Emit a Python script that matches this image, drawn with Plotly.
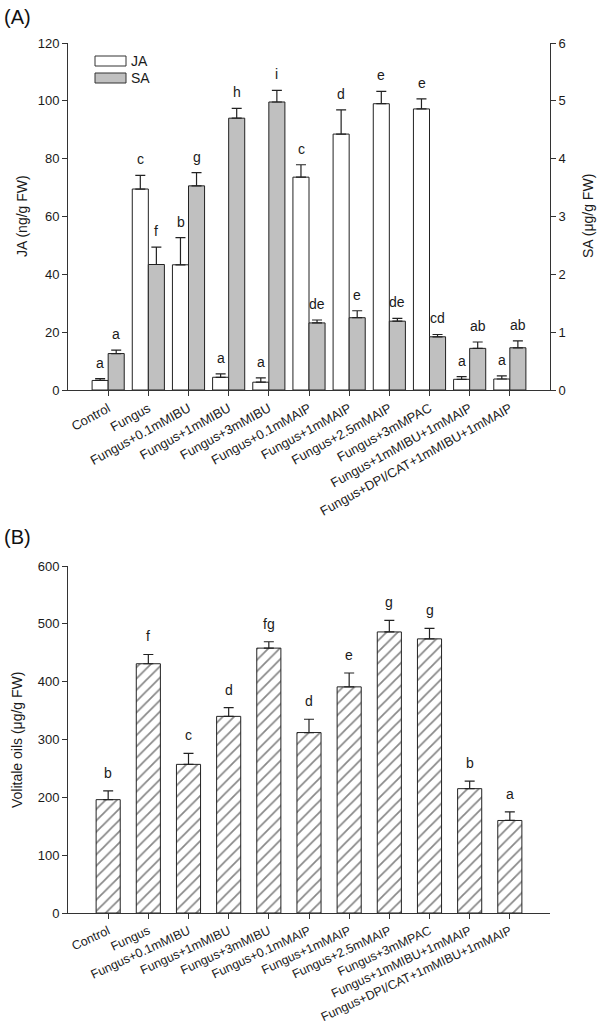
import plotly.graph_objects as go

categories = ["Control", "Fungus", "Fungus+0.1mMIBU", "Fungus+1mMIBU", "Fungus+3mMIBU",
              "Fungus+0.1mMAIP", "Fungus+1mMAIP", "Fungus+2.5mMAIP", "Fungus+3mMPAC",
              "Fungus+1mMIBU+1mMAIP", "Fungus+DPI/CAT+1mMIBU+1mMAIP"]
ja = [3.3, 69.5, 43.3, 4.4, 2.7, 73.6, 88.5, 99.0, 97.2, 3.7, 3.8]
ja_err = [0.6, 4.7, 9.4, 1.2, 1.5, 4.3, 8.4, 4.3, 3.5, 0.9, 1.1]
ja_letters = ["a", "c", "b", "a", "a", "c", "d", "e", "e", "a", "a"]
sa = [0.63, 2.17, 3.53, 4.70, 4.98, 1.16, 1.25, 1.19, 0.92, 0.72, 0.73]
sa_err = [0.06, 0.30, 0.23, 0.17, 0.20, 0.05, 0.12, 0.05, 0.04, 0.11, 0.12]
sa_letters = ["a", "f", "g", "h", "i", "de", "e", "de", "cd", "ab", "ab"]
oils = [196, 431, 257, 340, 458, 312, 391, 486, 474, 215, 160]
oils_err = [15, 16, 19, 15, 11, 23, 24, 20, 18, 13, 15]
oils_letters = ["b", "f", "c", "d", "fg", "d", "e", "g", "g", "b", "a"]
legend_names = ["JA", "SA"]

FONT = "Liberation Sans, Arial, sans-serif"
LINE = "#333333"
TXT = "#1a1a1a"
SA_GRAY = "#c0c0c0"
zeros = [0] * len(categories)

# figure geometry (px)
W, H = 600, 1026
ML, MR, MT, MB = 68, 50, 43, 113
PW, PH = W - ML - MR, H - MT - MB


def px_x(px):
    return (px - ML) / PW


def px_y(py):
    return (H - MB - py) / PH


fig = go.Figure()
fig.add_trace(go.Bar(
    x=categories, y=ja, name=legend_names[0], width=0.4, offset=-0.4, showlegend=False,
    marker=dict(color="white", line=dict(color="#222", width=1)),
    error_y=dict(type="data", array=ja_err, arrayminus=zeros, symmetric=False,
                 color="#222", thickness=1.2, width=5),
    xaxis="x", yaxis="y"))
fig.add_trace(go.Bar(
    x=categories, y=sa, name=legend_names[1], width=0.4, offset=0, showlegend=False,
    marker=dict(color=SA_GRAY, line=dict(color="#222", width=1)),
    error_y=dict(type="data", array=sa_err, arrayminus=zeros, symmetric=False,
                 color="#222", thickness=1.2, width=5),
    xaxis="x", yaxis="y2"))
fig.add_trace(go.Bar(
    x=categories, y=oils, name="Volitale oils", width=0.6, showlegend=False,
    marker=dict(color="white", line=dict(color="#222", width=1),
                pattern=dict(shape="/", fgcolor="#111", bgcolor="white", size=8, solidity=0.22)),
    error_y=dict(type="data", array=oils_err, arrayminus=zeros, symmetric=False,
                 color="#222", thickness=1.2, width=5),
    xaxis="x2", yaxis="y3"))

LET = dict(size=14, color=TXT)
ann = []
for c, v, e, t in zip(categories, ja, ja_err, ja_letters):
    ann.append(dict(x=c, y=v + e, xref="x", yref="y", text=t, showarrow=False,
                    xshift=-8, yshift=16, yanchor="middle", font=LET))
for c, v, e, t in zip(categories, sa, sa_err, sa_letters):
    ann.append(dict(x=c, y=v + e, xref="x", yref="y2", text=t, showarrow=False,
                    xshift=8, yshift=16, yanchor="middle", font=LET))
for c, v, e, t in zip(categories, oils, oils_err, oils_letters):
    ann.append(dict(x=c, y=v + e, xref="x2", yref="y3", text=t, showarrow=False,
                    yshift=18, yanchor="middle", font=LET))

# panel labels
ann.append(dict(x=px_x(2), y=px_y(17), xref="paper", yref="paper", text="(A)", showarrow=False,
                xanchor="left", yanchor="middle", font=dict(size=20, color="#111")))
ann.append(dict(x=px_x(2), y=px_y(537), xref="paper", yref="paper", text="(B)", showarrow=False,
                xanchor="left", yanchor="middle", font=dict(size=20, color="#111")))

# axis titles
TT = dict(size=14, color=TXT)
ann.append(dict(x=px_x(22), y=px_y(216), xref="paper", yref="paper", text="JA (ng/g FW)",
                textangle=-90, showarrow=False, xanchor="center", yanchor="middle", font=TT))
ann.append(dict(x=px_x(588), y=px_y(216), xref="paper", yref="paper", text="SA (μg/g FW)",
                textangle=-90, showarrow=False, xanchor="center", yanchor="middle", font=TT))
ann.append(dict(x=px_x(17), y=px_y(740), xref="paper", yref="paper", text="Volitale oils (μg/g FW)",
                textangle=-90, showarrow=False, xanchor="center", yanchor="middle", font=TT))

# legend (boxes + labels)
shapes = []
leg_fill = ["white", SA_GRAY]
leg_rows = [(56, 66), (73, 83)]
for name, fill, (y0, y1) in zip(legend_names, leg_fill, leg_rows):
    shapes.append(dict(type="rect", xref="paper", yref="paper",
                       x0=px_x(95), x1=px_x(126), y0=px_y(y1), y1=px_y(y0),
                       fillcolor=fill, line=dict(color="#333", width=1)))
    ann.append(dict(x=px_x(129), y=px_y((y0 + y1) / 2), xref="paper", yref="paper", text=name,
                    showarrow=False, xanchor="left", yanchor="middle", font=dict(size=14, color=TXT)))

xcommon = dict(type="category", range=[-1, 11], showline=True, linecolor=LINE, linewidth=1,
               ticks="outside", ticklen=5, tickcolor=LINE, automargin=False,
               showgrid=False, zeroline=False)
ycommon = dict(showline=True, linecolor=LINE, linewidth=1, ticks="outside", ticklen=5,
               tickcolor=LINE, tickfont=dict(size=13, color=TXT), showgrid=False,
               zeroline=False, automargin=False)

fig.update_layout(
    width=W, height=H,
    margin=dict(l=ML, r=MR, t=MT, b=MB),
    paper_bgcolor="white", plot_bgcolor="white",
    font=dict(family=FONT, size=13, color=TXT),
    showlegend=False,
    xaxis=dict(**xcommon, domain=[0, 1], anchor="y", tickangle=-29,
               tickfont=dict(size=13, color=TXT)),
    yaxis=dict(**ycommon, domain=[px_y(390), 1], range=[0, 120], dtick=20),
    yaxis2=dict(**ycommon, overlaying="y", side="right", anchor="x", range=[0, 6], dtick=1),
    xaxis2=dict(**xcommon, domain=[0, 1], anchor="y3", tickangle=-25,
                tickfont=dict(size=12.5, color=TXT)),
    yaxis3=dict(**ycommon, domain=[0, px_y(566)], range=[0, 600], dtick=100),
    annotations=ann,
    shapes=shapes,
)

fig.write_html("out.html", config={"displayModeBar": False},
               post_script="document.body.style.margin='0px';document.body.style.overflow='hidden';")
